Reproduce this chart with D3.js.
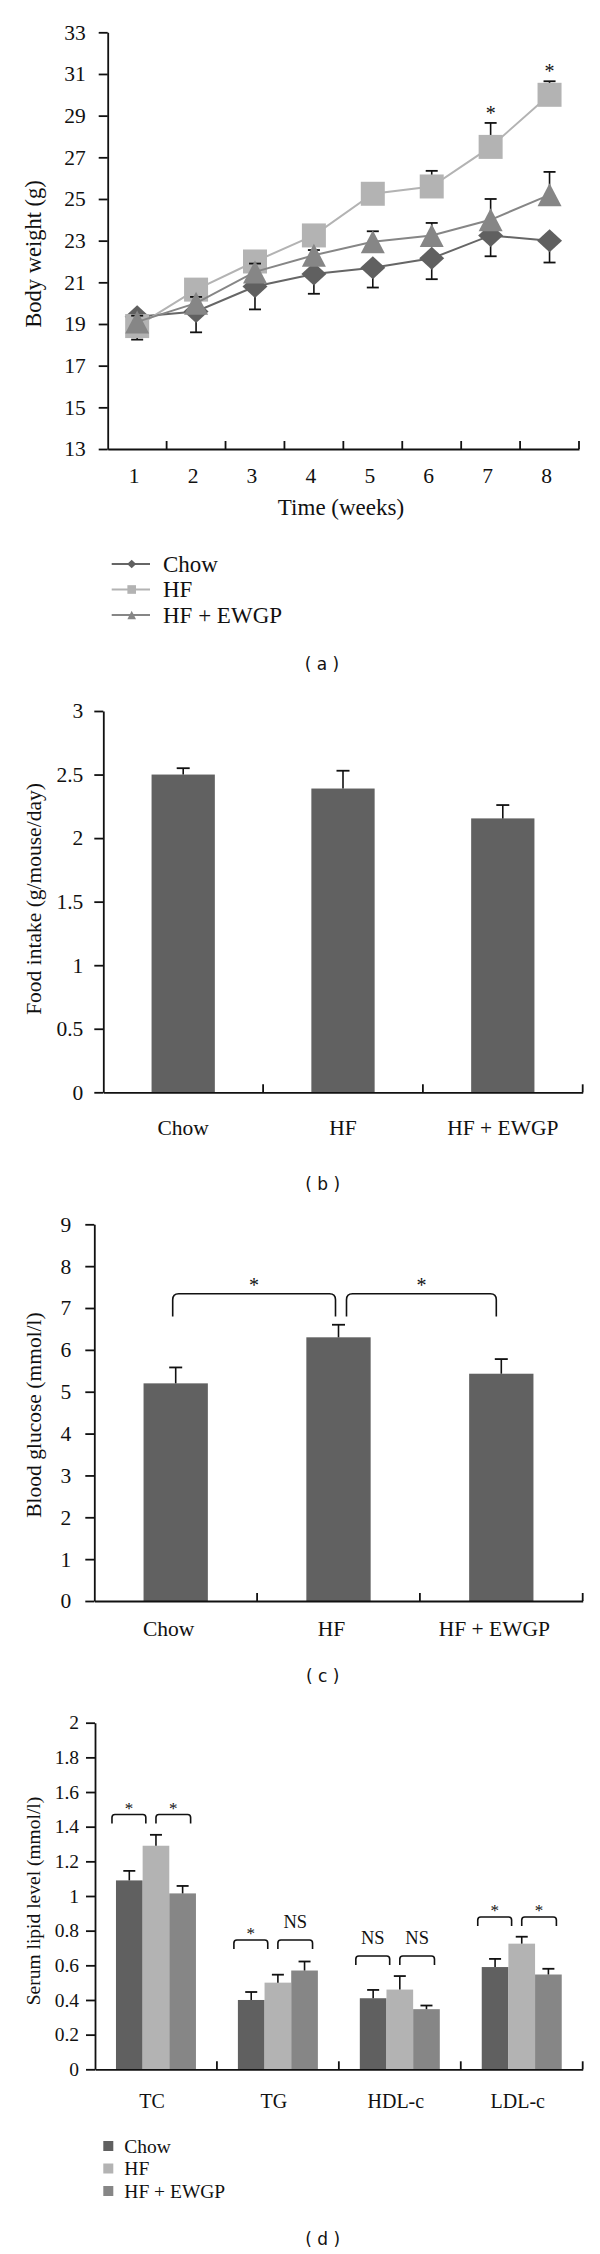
<!DOCTYPE html>
<html>
<head>
<meta charset="utf-8">
<script src="https://cdn.jsdelivr.net/npm/d3@7"></script>
<style>
  body { margin: 0; background: #fff; }
</style>
</head>
<body>
<svg id="fig" width="600" height="2254"></svg>
<script>
// ---- data ----
var weeks = [1, 2, 3, 4, 5, 6, 7, 8];
var groups = ["Chow", "HF", "HF + EWGP"];

// (a) body weight (g)
var chowWeight    = [19.35, 19.6, 20.8, 21.4, 21.7, 22.15, 23.25, 23.0];
var chowWeightErr = [1.1, 1.0, 1.1, 0.95, 0.95, 1.0, 1.0, 1.05];
var hfWeight      = [18.9, 20.65, 22.0, 23.25, 25.25, 25.6, 27.5, 30.0];
var hfWeightErr   = [0.3, 0.4, 0.4, 0.4, 0.4, 0.75, 1.15, 0.65];
var ewgpWeight    = [19.1, 20.0, 21.5, 22.3, 22.95, 23.25, 24.0, 25.2];
var ewgpWeightErr = [0.3, 0.3, 0.4, 0.25, 0.5, 0.6, 1.0, 1.1];
var weightStarWeeks = [7, 8];
var weightTicks = [13, 15, 17, 19, 21, 23, 25, 27, 29, 31, 33];

// (b) food intake (g/mouse/day)
var foodIntake    = [2.5, 2.39, 2.155];
var foodIntakeErr = [0.05, 0.14, 0.105];
var foodTicks = [0, 0.5, 1, 1.5, 2, 2.5, 3];

// (c) blood glucose (mmol/l)
var glucose    = [5.2, 6.3, 5.43];
var glucoseErr = [0.38, 0.3, 0.35];
var glucoseTicks = [0, 1, 2, 3, 4, 5, 6, 7, 8, 9];
var glucoseBrackets = [[0, 1, "*"], [1, 2, "*"]];

// (d) serum lipid level (mmol/l)
var lipids = ["TC", "TG", "HDL-c", "LDL-c"];
var lipidChow    = [1.09, 0.40, 0.41, 0.59];
var lipidChowErr = [0.055, 0.046, 0.048, 0.047];
var lipidHF      = [1.29, 0.50, 0.46, 0.725];
var lipidHFErr   = [0.063, 0.046, 0.078, 0.04];
var lipidEwgp    = [1.015, 0.57, 0.347, 0.547];
var lipidEwgpErr = [0.043, 0.052, 0.021, 0.033];
var lipidTicks = [0, 0.2, 0.4, 0.6, 0.8, 1, 1.2, 1.4, 1.6, 1.8, 2];
var lipidBracketTop = [1.47, 0.746, 0.654, 0.879];
var lipidMarks = [["*", "*"], ["*", "NS"], ["NS", "NS"], ["*", "*"]];

// ---- shared ----
var serif = '"Liberation Serif", "Times New Roman", serif';
var ink = "#111";
var greys = {"Chow": "#606060", "HF": "#b3b3b3", "HF + EWGP": "#868686"};
var svg = d3.select("#fig");

function yAxis(y, ticks, x0, pad, fs) {
    var g = svg.append("g").attr("transform", "translate(" + x0 + ",0)")
        .call(d3.axisLeft(y).tickValues(ticks).tickSize(9).tickSizeOuter(0)
            .tickPadding(pad).tickFormat(function (d) { return String(d); }));
    g.select(".domain").attr("stroke", ink).attr("stroke-width", 1.8);
    g.selectAll(".tick line").attr("stroke", ink).attr("stroke-width", 1.8);
    g.selectAll(".tick text").style("font-family", serif).style("font-size", fs + "px").attr("fill", ink);
}

function xAxis(x, y0, pad, fs, dx) {
    var g = svg.append("g").attr("transform", "translate(0," + y0 + ")")
        .call(d3.axisBottom(x).tickSize(0).tickSizeOuter(0).tickPadding(pad));
    g.select(".domain").attr("stroke", ink).attr("stroke-width", 1.8);
    g.selectAll(".tick text").style("font-family", serif).style("font-size", fs + "px")
        .attr("fill", ink).attr("dx", dx || 0);
    // boundary ticks pointing up
    var bounds = x.domain().slice(1).map(function (d) { return x(d); });
    bounds.push(x.range()[1]);
    g.selectAll(".btick").data(bounds).enter().append("line")
        .attr("x1", function (d) { return d; }).attr("x2", function (d) { return d; })
        .attr("y1", 0).attr("y2", -8)
        .attr("stroke", ink).attr("stroke-width", 1.8);
}

function yTitle(text, cx, cy, fs) {
    svg.append("text")
        .attr("transform", "translate(" + cx + "," + cy + ") rotate(-90)")
        .attr("text-anchor", "middle").attr("dy", "0.35em")
        .style("font-family", serif).style("font-size", fs + "px").attr("fill", ink)
        .text(text);
}

function panelLabel(text, cx, y) {
    svg.append("text").attr("x", cx).attr("y", y).attr("text-anchor", "middle")
        .style("font-family", '"DejaVu Sans", sans-serif').style("font-size", "17px")
        .attr("fill", ink).attr("xml:space", "preserve").text(text);
}

function errBar(g, cx, yTop, yEnd, capW) {
    g.append("line").attr("x1", cx).attr("x2", cx).attr("y1", yTop).attr("y2", yEnd)
        .attr("stroke", ink).attr("stroke-width", 1.6);
    g.append("line").attr("x1", cx - capW / 2).attr("x2", cx + capW / 2).attr("y1", yEnd).attr("y2", yEnd)
        .attr("stroke", ink).attr("stroke-width", 1.8);
}

function bracket(g, x1, x2, yTop, leg, r, label, labelY, fs) {
    var p = "M" + x1 + "," + (yTop + leg) +
        "L" + x1 + "," + (yTop + r) + "Q" + x1 + "," + yTop + " " + (x1 + r) + "," + yTop +
        "L" + (x2 - r) + "," + yTop + "Q" + x2 + "," + yTop + " " + x2 + "," + (yTop + r) +
        "L" + x2 + "," + (yTop + leg);
    g.append("path").attr("d", p).attr("fill", "none").attr("stroke", ink).attr("stroke-width", 1.6);
    g.append("text").attr("x", (x1 + x2) / 2).attr("y", labelY).attr("text-anchor", "middle")
        .style("font-family", serif).style("font-size", fs + "px").attr("fill", ink).text(label);
}

function markerPath(shape, s) {
    if (shape == "diamond")
        return "M0," + (-11.5 * s) + "L" + (12.5 * s) + ",0L0," + (11.5 * s) + "L" + (-12.5 * s) + ",0Z";
    if (shape == "square")
        return "M" + (-12 * s) + "," + (-12 * s) + "H" + (12 * s) + "V" + (12 * s) + "H" + (-12 * s) + "Z";
    return "M0," + (-11.5 * s) + "L" + (12 * s) + "," + (11.5 * s) + "L" + (-12 * s) + "," + (11.5 * s) + "Z";
}

// ---- (a) body weight ----
var xA = d3.scaleBand().domain(weeks).range([107.7, 579]);
var yA = d3.scaleLinear().domain([13, 33]).range([449, 32.3]);
var cxA = function (w) { return xA(w) + xA.bandwidth() / 2; };

yAxis(yA, weightTicks, 107.7, 13, 21.5);
xAxis(xA, 449, 18.5, 21.5, -3);
yTitle("Body weight (g)", 33, 254, 22.5);
svg.append("text").attr("x", 341).attr("y", 515).attr("text-anchor", "middle")
    .style("font-family", serif).style("font-size", "23px").attr("fill", ink).text("Time (weeks)");

var seriesA = [
    {name: "Chow", vals: chowWeight, err: chowWeightErr, dir: -1, shape: "diamond", line: "#666666"},
    {name: "HF", vals: hfWeight, err: hfWeightErr, dir: 1, shape: "square", line: "#b3b3b3"},
    {name: "HF + EWGP", vals: ewgpWeight, err: ewgpWeightErr, dir: 1, shape: "triangle", line: "#868686"}
];

var lineA = d3.line()
    .x(function (d, i) { return cxA(weeks[i]); })
    .y(function (d) { return yA(d); });

seriesA.forEach(function (s) {
    var g = svg.append("g");
    g.append("path").attr("d", lineA(s.vals)).attr("fill", "none")
        .attr("stroke", s.line).attr("stroke-width", 2);
    s.vals.forEach(function (v, i) {
        errBar(g, cxA(weeks[i]), yA(v), yA(v + s.dir * s.err[i]), 12);
    });
    g.selectAll(".mk").data(s.vals).enter().append("path")
        .attr("d", markerPath(s.shape, 1))
        .attr("transform", function (d, i) { return "translate(" + cxA(weeks[i]) + "," + yA(d) + ")"; })
        .attr("fill", greys[s.name]);
});

weightStarWeeks.forEach(function (w) {
    var i = weeks.indexOf(w);
    svg.append("text").attr("x", cxA(w)).attr("y", yA(hfWeight[i] + hfWeightErr[i]) - 3)
        .attr("text-anchor", "middle").style("font-family", serif).style("font-size", "20px")
        .attr("fill", ink).text("*");
});

// legend (a)
var legA = svg.append("g");
seriesA.forEach(function (s, i) {
    var ly = 564 + i * 25.5;
    legA.append("line").attr("x1", 111.7).attr("x2", 150).attr("y1", ly).attr("y2", ly)
        .attr("stroke", s.line).attr("stroke-width", 2);
    legA.append("path").attr("d", markerPath(s.shape, 0.36))
        .attr("transform", "translate(131.7," + ly + ")").attr("fill", greys[s.name]);
    legA.append("text").attr("x", 163).attr("y", ly + 7.5)
        .style("font-family", serif).style("font-size", "23px").attr("fill", ink).text(s.name);
});
panelLabel("( a )", 322, 670);

// ---- (b) food intake ----
var xB = d3.scaleBand().domain(groups).range([103.3, 582.7]);
var yB = d3.scaleLinear().domain([0, 3]).range([1092.3, 711]);
var bwB = xB.bandwidth() * 0.396;
var gB = svg.append("g");
gB.selectAll("rect").data(foodIntake).enter().append("rect")
    .attr("x", function (d, i) { return xB(groups[i]) + (xB.bandwidth() - bwB) / 2; })
    .attr("y", function (d) { return yB(d); })
    .attr("width", bwB)
    .attr("height", function (d) { return yB(0) - yB(d); })
    .attr("fill", "#616161");
foodIntake.forEach(function (v, i) {
    var cx = xB(groups[i]) + xB.bandwidth() / 2;
    errBar(gB, cx, yB(v), yB(v + foodIntakeErr[i]), 13);
});
yAxis(yB, foodTicks, 103.3, 11, 21.5);
xAxis(xB, 1092.3, 27, 21.5, 0);
yTitle("Food intake (g/mouse/day)", 33, 899, 21.5);
panelLabel("( b )", 322.7, 1190);

// ---- (c) blood glucose ----
var xC = d3.scaleBand().domain(groups).range([94.3, 582.7]);
var yC = d3.scaleLinear().domain([0, 9]).range([1601, 1224.3]);
var bwC = xC.bandwidth() * 0.395;
var cxC = function (i) { return xC(groups[i]) + xC.bandwidth() / 2; };
var gC = svg.append("g");
gC.selectAll("rect").data(glucose).enter().append("rect")
    .attr("x", function (d, i) { return cxC(i) - bwC / 2; })
    .attr("y", function (d) { return yC(d); })
    .attr("width", bwC)
    .attr("height", function (d) { return yC(0) - yC(d); })
    .attr("fill", "#616161");
glucose.forEach(function (v, i) {
    errBar(gC, cxC(i), yC(v), yC(v + glucoseErr[i]), 13);
});
glucoseBrackets.forEach(function (b, k) {
    var x1 = k == 0 ? cxC(b[0]) - 3 : cxC(b[0]) + 8;
    var x2 = k == 0 ? cxC(b[1]) - 3 : cxC(b[1]) - 5;
    bracket(gC, x1, x2, yC(7.34), yC(6.8) - yC(7.34), 6, b[2], yC(7.34) - 2, 20);
});
yAxis(yC, glucoseTicks, 94.3, 14, 21.5);
xAxis(xC, 1601, 19.5, 21.5, -7);
yTitle("Blood glucose (mmol/l)", 33, 1415, 21.5);
panelLabel("( c )", 322.7, 1682);

// ---- (d) serum lipids ----
var xD = d3.scaleBand().domain(lipids).range([95, 582.7]);
var groupW = xD.bandwidth() * 0.656;
var x1D = d3.scaleBand().domain(groups).range([0, groupW]);
var yD = d3.scaleLinear().domain([0, 2]).range([2069.3, 1722.7]);
var lipidSets = [
    {name: "Chow", vals: lipidChow, err: lipidChowErr},
    {name: "HF", vals: lipidHF, err: lipidHFErr},
    {name: "HF + EWGP", vals: lipidEwgp, err: lipidEwgpErr}
];
var gD = svg.append("g");
var gx = function (c) { return xD(c) + (xD.bandwidth() - groupW) / 2; };
lipidSets.forEach(function (s) {
    gD.selectAll(".b" + s.name.length).data(s.vals).enter().append("rect")
        .attr("x", function (d, i) { return gx(lipids[i]) + x1D(s.name); })
        .attr("y", function (d) { return yD(d); })
        .attr("width", x1D.bandwidth())
        .attr("height", function (d) { return yD(0) - yD(d); })
        .attr("fill", greys[s.name]);
});
lipidSets.forEach(function (s) {
    s.vals.forEach(function (v, i) {
        var cx = gx(lipids[i]) + x1D(s.name) + x1D.bandwidth() / 2;
        errBar(gD, cx, yD(v), yD(v + s.err[i]), 12);
    });
});
lipids.forEach(function (c, i) {
    var bw = x1D.bandwidth(), left = gx(c), top = yD(lipidBracketTop[i]);
    var spans = [[-0.15 * bw, 1.12 * bw], [1.5 * bw, 2.8 * bw]];
    spans.forEach(function (sp, k) {
        var lab = lipidMarks[i][k];
        var ly = lab == "NS" ? top - 12 : top - 1;
        bracket(gD, left + sp[0], left + sp[1], top, 9, 3, lab, ly, lab == "NS" ? 18.5 : 17);
    });
});
yAxis(yD, lipidTicks, 95, 7, 19.5);
xAxis(xD, 2069.3, 25, 20, -4);
yTitle("Serum lipid level (mmol/l)", 33, 1901, 19.5);

var legD = svg.append("g");
groups.forEach(function (name, i) {
    var ly = 2146 + i * 22.5;
    legD.append("rect").attr("x", 103.3).attr("y", ly - 5).attr("width", 10).attr("height", 10)
        .attr("fill", greys[name]);
    legD.append("text").attr("x", 124.3).attr("y", ly + 6.5)
        .style("font-family", serif).style("font-size", "19.5px").attr("fill", ink).text(name);
});
panelLabel("( d )", 322.7, 2245);
</script>
</body>
</html>
